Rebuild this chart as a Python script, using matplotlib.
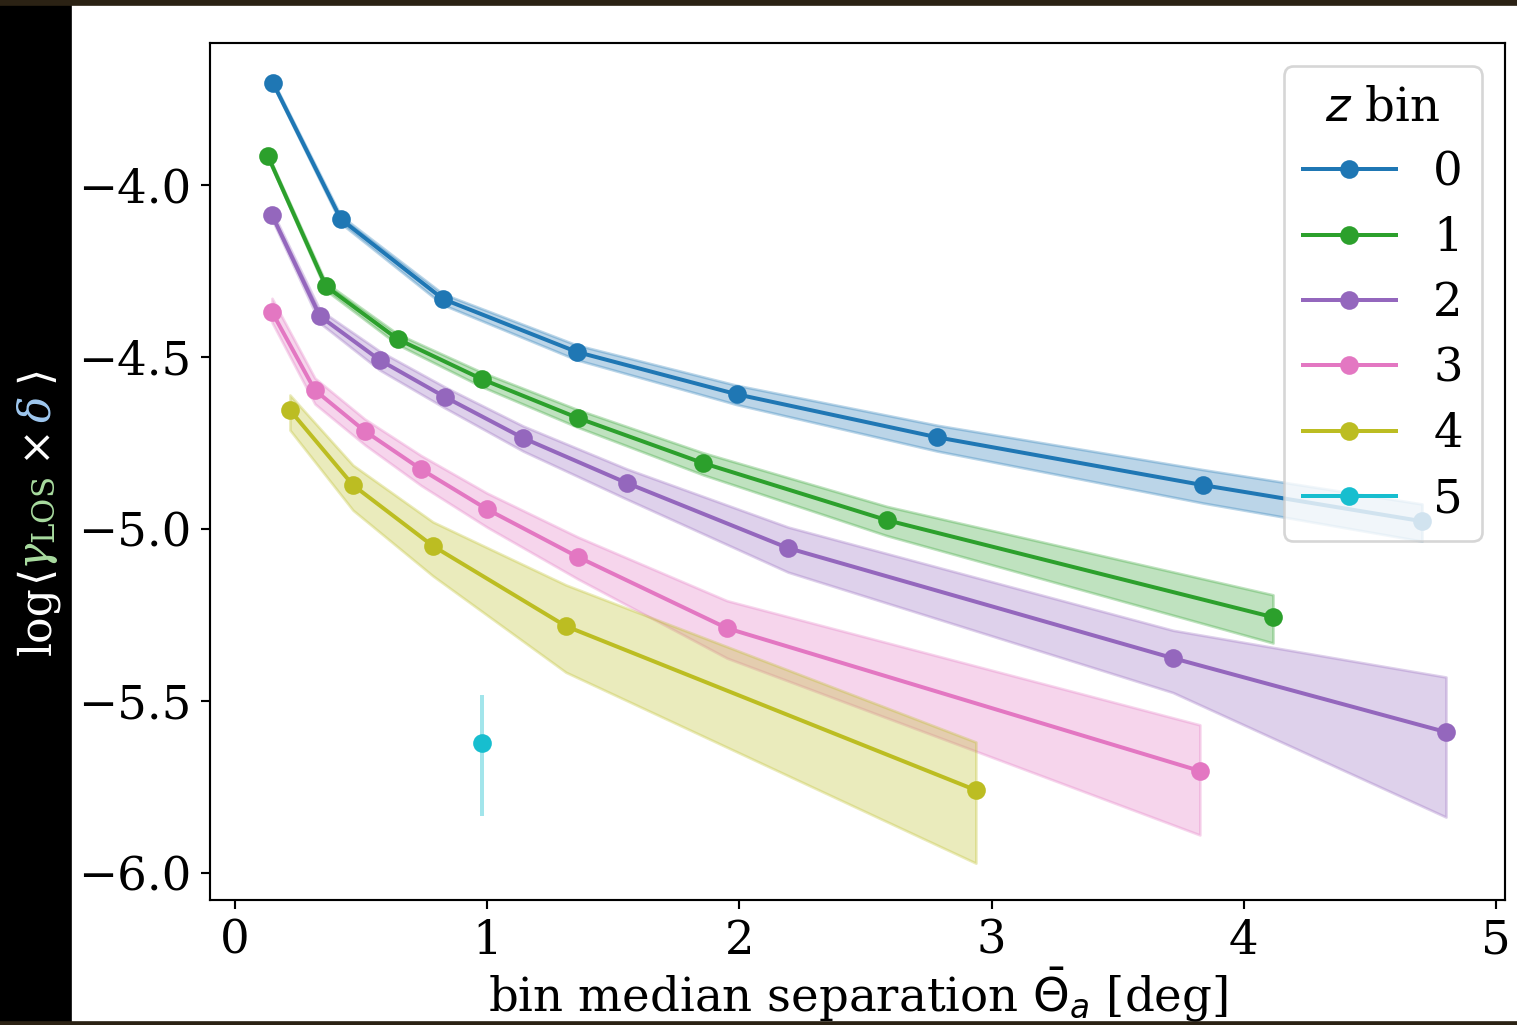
import matplotlib
matplotlib.use("Agg")
import matplotlib.pyplot as plt
from matplotlib.patches import Rectangle

plt.rcParams["font.family"] = "DejaVu Serif"
plt.rcParams["mathtext.fontset"] = "dejavuserif"
plt.rcParams["font.size"] = 17.5

# z bin 0..5 : bin median separation [deg], log<gamma_LOS x delta>, band (upper / lower offsets)
z_bins = ["0", "1", "2", "3", "4", "5"]
colors = ["tab:blue", "tab:green", "tab:purple", "tab:pink", "tab:olive", "tab:cyan"]

sep0 = [0.151, 0.420, 0.825, 1.356, 1.990, 2.784, 3.838, 4.707]
val0 = [-3.703, -4.099, -4.331, -4.485, -4.608, -4.733, -4.872, -4.977]
up0 = [0.006, 0.010, 0.015, 0.020, 0.026, 0.035, 0.045, 0.050]
dn0 = [0.006, 0.012, 0.017, 0.023, 0.030, 0.040, 0.052, 0.058]

sep1 = [0.131, 0.361, 0.646, 0.979, 1.360, 1.856, 2.585, 4.116]
val1 = [-3.916, -4.294, -4.448, -4.564, -4.677, -4.808, -4.974, -5.256]
up1 = [0.005, 0.010, 0.015, 0.020, 0.024, 0.030, 0.040, 0.065]
dn1 = [0.005, 0.012, 0.016, 0.022, 0.027, 0.034, 0.045, 0.075]

sep2 = [0.147, 0.337, 0.575, 0.833, 1.142, 1.554, 2.193, 3.719, 4.802]
val2 = [-4.087, -4.381, -4.509, -4.616, -4.735, -4.866, -5.055, -5.375, -5.590]
up2 = [0.012, 0.018, 0.026, 0.029, 0.035, 0.041, 0.061, 0.081, 0.160]
dn2 = [0.012, 0.020, 0.029, 0.032, 0.038, 0.047, 0.070, 0.100, 0.247]

sep3 = [0.147, 0.317, 0.515, 0.738, 0.999, 1.360, 1.951, 3.826]
val3 = [-4.369, -4.596, -4.715, -4.826, -4.942, -5.081, -5.288, -5.703]
up3 = [0.040, 0.035, 0.035, 0.040, 0.047, 0.058, 0.080, 0.134]
dn3 = [0.030, 0.040, 0.040, 0.047, 0.052, 0.064, 0.087, 0.186]

sep4 = [0.218, 0.468, 0.785, 1.312, 2.938]
val4 = [-4.654, -4.872, -5.049, -5.282, -5.759]
up4 = [0.044, 0.058, 0.070, 0.120, 0.140]
dn4 = [0.058, 0.073, 0.087, 0.134, 0.212]

sep5 = [0.979]
val5 = [-5.622]
up5 = [0.140]
dn5 = [0.212]

seps = [sep0, sep1, sep2, sep3, sep4, sep5]
vals = [val0, val1, val2, val3, val4, val5]
ups = [up0, up1, up2, up3, up4, up5]
dns = [dn0, dn1, dn2, dn3, dn4, dn5]

fig = plt.figure(figsize=(1517 / 192, 1025 / 192), dpi=192)
ax = fig.add_axes([0.1384, 0.1220, 0.8537, 0.8360])

for zb, c, x, y, u, d in zip(z_bins, colors, seps, vals, ups, dns):
    lo = [a - b for a, b in zip(y, d)]
    hi = [a + b for a, b in zip(y, u)]
    if len(x) > 1:
        ax.fill_between(x, lo, hi, color=c, alpha=0.3)
    else:
        ax.errorbar(x, y, yerr=[d, u], fmt="none", ecolor=c, alpha=0.4, elinewidth=1.5)
    ax.plot(x, y, "-o", color=c, lw=1.5, ms=6, label=zb)

ax.set_xlim(-0.099, 5.036)
ax.set_ylim(-6.078, -3.587)
ax.set_xticks([0, 1, 2, 3, 4, 5])
ax.set_yticks([-6.0, -5.5, -5.0, -4.5, -4.0])
ax.set_yticklabels(["\u22126.0", "\u22125.5", "\u22125.0", "\u22124.5", "\u22124.0"])
ax.set_xlabel(r"bin median separation $\bar{\Theta}_a$ [deg]", labelpad=0.5,
              math_fontfamily="dejavusans")

leg = ax.legend(title=r"$z$ bin", loc="upper right", title_fontsize=17.5, fontsize=17.5,
                labelspacing=0.43)
leg.get_title().set_math_fontfamily("dejavusans")

# screenshot frame: black strip on the left, dark edges top/bottom
fig.patches.append(Rectangle((0, 0), 70 / 1517, 1, transform=fig.transFigure,
                             color="black", zorder=-1))
fig.patches.append(Rectangle((0, 1 - 4 / 1025), 1, 4 / 1025, transform=fig.transFigure,
                             color="#2b2214", zorder=-1))
fig.patches.append(Rectangle((0, 0), 1, 3 / 1025, transform=fig.transFigure,
                             color="#2b2214", zorder=-1))

# coloured y label, stacked bottom to top
pieces = [("log", "white", 0), (r"$\langle$", "white", 0), (r"$\gamma_{\rm LOS}$", "#a9dca0", 0),
          (r"$\times$", "white", 12), (r"$\delta$", "#9fc8f0", 10), (r"$\rangle$", "white", 10)]
renderer = fig.canvas.get_renderer()
ypix = 1025 - 655
for txt, col, gap in pieces:
    ypix += gap
    t = fig.text(38 / 1517, ypix / 1025, txt, color=col, rotation=90,
                 ha="center", va="bottom", fontsize=16.5)
    ypix += t.get_window_extent(renderer).height

fig.savefig("out.png", dpi=192)
